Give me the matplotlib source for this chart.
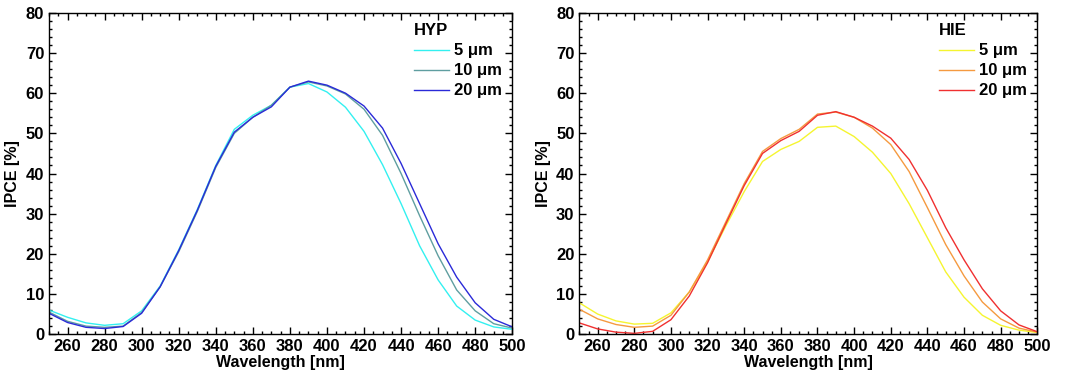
#!/usr/bin/env python3
import numpy as np
import matplotlib
matplotlib.use("Agg")
import matplotlib.pyplot as plt
from matplotlib.ticker import MultipleLocator

wavelength = np.arange(250, 501, 10)

# HYP series
hyp_5 = [6.0, 4.2, 2.8, 2.2, 2.6, 5.8, 12.0, 21.0, 31.0, 42.0, 51.0, 54.5, 57.0,
         61.5, 62.4, 60.3, 56.5, 50.5, 42.2, 32.5, 22.0, 13.5, 7.0, 3.5, 1.8, 1.2]
hyp_10 = [5.5, 3.2, 2.0, 1.7, 2.0, 5.4, 11.8, 20.5, 30.5, 41.5, 50.0, 54.0, 57.0,
          61.5, 62.8, 61.8, 59.8, 56.0, 49.5, 40.0, 29.5, 19.5, 11.0, 5.8, 2.6, 1.5]
hyp_20 = [5.2, 2.9, 1.7, 1.4, 1.9, 5.2, 11.8, 20.8, 30.8, 41.8, 50.3, 54.0, 56.6,
          61.5, 63.0, 62.0, 60.0, 56.8, 51.3, 42.5, 32.5, 22.5, 14.2, 7.8, 3.7, 1.8]

# HIE series
hie_5 = [7.8, 5.0, 3.3, 2.5, 2.7, 5.3, 10.5, 18.0, 27.0, 35.5, 43.0, 46.0, 48.0,
         51.5, 51.8, 49.2, 45.3, 40.0, 32.5, 24.0, 15.5, 9.2, 4.7, 2.2, 1.0, 0.4]
hie_10 = [6.2, 3.8, 2.4, 1.7, 2.0, 4.7, 10.5, 18.5, 28.0, 37.5, 45.5, 48.7, 51.0,
          54.8, 55.3, 54.0, 51.3, 47.2, 40.5, 31.5, 22.3, 14.5, 8.0, 3.8, 1.5, 0.5]
hie_20 = [2.8, 1.3, 0.5, 0.2, 0.7, 3.6, 9.5, 17.8, 27.5, 37.0, 45.0, 48.2, 50.5,
          54.5, 55.4, 54.0, 51.8, 48.8, 43.5, 35.8, 26.5, 18.5, 11.3, 5.8, 2.3, 0.6]

labels = ["5 \u03bcm", "10 \u03bcm", "20 \u03bcm"]

plt.rcParams["font.family"] = ["Liberation Sans", "DejaVu Sans"]
plt.rcParams["font.weight"] = "bold"
plt.rcParams["axes.labelweight"] = "bold"

fig = plt.figure(figsize=(10.65, 3.78), dpi=100)
ax1 = fig.add_axes([0.046, 0.116, 0.435, 0.850])
ax2 = fig.add_axes([0.544, 0.116, 0.430, 0.850])


def style_axis(ax, series, colors, title):
    for ys, c, lab in zip(series, colors, labels):
        ax.plot(wavelength, ys, color=c, lw=1.0, label=lab)
    ax.set_xlim(250, 500)
    ax.set_ylim(0, 80)
    ax.xaxis.set_minor_locator(MultipleLocator(5))
    ax.yaxis.set_major_locator(MultipleLocator(10))
    ax.yaxis.set_minor_locator(MultipleLocator(2))
    ax.set_xticks(np.arange(260, 501, 20))
    ax.tick_params(which="both", direction="in", top=True, right=True,
                   labelsize=12, width=1.0)
    ax.tick_params(which="major", length=5)
    ax.tick_params(which="minor", length=2.5)
    for sp in ax.spines.values():
        sp.set_linewidth(1.0)
    ax.set_xlabel("Wavelength [nm]", fontsize=11.5, labelpad=1)
    ax.set_ylabel("IPCE [%]", fontsize=11.5, labelpad=4)
    leg = ax.legend(loc="upper right", frameon=False, title=title,
                    fontsize=12, title_fontsize=12, handlelength=2.1,
                    handletextpad=0.3, labelspacing=0.3,
                    borderaxespad=0.1, bbox_to_anchor=(0.995, 0.993))
    leg._legend_box.align = "left"
    leg.get_title().set_fontweight("bold")


style_axis(ax1, [hyp_5, hyp_10, hyp_20], ["#33f0f0", "#5f9ea0", "#2a2ad8"], "HYP")
style_axis(ax2, [hie_5, hie_10, hie_20], ["#f5f530", "#f59a40", "#f03030"], "HIE")

fig.savefig("out.png", dpi=100)
